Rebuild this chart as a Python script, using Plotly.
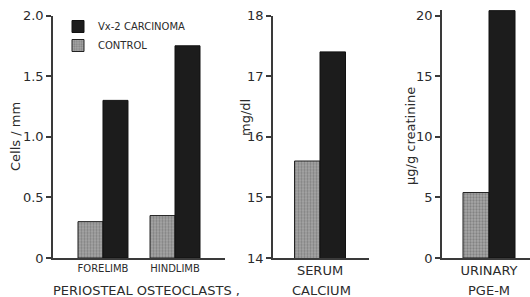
import plotly.graph_objects as go

# ---- data ----
osteo_categories = ["FORELIMB", "HINDLIMB"]
osteo_control = [0.30, 0.35]
osteo_carcinoma = [1.30, 1.75]

calcium_category = ["SERUM"]
calcium_control = [15.6]
calcium_carcinoma = [17.4]

pge_category = ["URINARY"]
pge_control = [5.4]
pge_carcinoma = [20.4]

series_names = ["CONTROL", "Vx-2 CARCINOMA"]
y_titles = ["Cells / mm", "mg/dl", "\u00b5g/g creatinine"]
osteo_ticks = [0, 0.5, 1.0, 1.5, 2.0]
osteo_ticktext = ["0", "0.5", "1.0", "1.5", "2.0"]
calcium_ticks = [14, 15, 16, 17, 18]
pge_ticks = [0, 5, 10, 15, 20]

W, H = 530, 297
FONT = "DejaVu Sans"
TXT = "#2b2b2b"
LINE = "#3a3a3a"
CTRL = "#8c8c8c"
CARC = "#1c1c1c"

def px(x):
    return x / W

def py(y):
    return 1 - y / H

fig = go.Figure()

panels = [
    ("x", "y", osteo_categories, osteo_control, osteo_carcinoma, True),
    ("x2", "y2", calcium_category, calcium_control, calcium_carcinoma, False),
    ("x3", "y3", pge_category, pge_control, pge_carcinoma, False),
]
for xa, ya, cats, ctrl, carc, show in panels:
    fig.add_trace(go.Bar(
        x=cats, y=ctrl, name=series_names[0], xaxis=xa, yaxis=ya,
        marker=dict(color=CTRL, line=dict(color="#222", width=1),
                    pattern=dict(shape=".", fgcolor="#5a5a5a", bgcolor="#a8a8a8",
                                 size=3, solidity=0.45)),
        showlegend=show, legendgroup="c",
    ))
    fig.add_trace(go.Bar(
        x=cats, y=carc, name=series_names[1], xaxis=xa, yaxis=ya,
        marker=dict(color=CARC, line=dict(color="#111", width=1)),
        showlegend=show, legendgroup="v",
    ))

Y0 = 258.0      # pixel row of the value axis baseline
YTOP = 15.5     # pixel row of the top tick
ydom = [py(Y0), py(YTOP)]
# panel 3: the tallest bar rises above the top tick, so extend range and domain
pge_top = 20.45
pge_px_per_unit = (Y0 - YTOP) / 20.0
ydom3 = [py(Y0), py(Y0 - pge_top * pge_px_per_unit)]

axis_common = dict(showline=True, linecolor=LINE, linewidth=1.5, showgrid=False,
                   zeroline=False, ticks="outside", ticklen=5, tickcolor=LINE,
                   tickwidth=1.5, tickfont=dict(family=FONT, size=13, color=TXT),
                   automargin=False)
xcommon = dict(showline=True, linecolor=LINE, linewidth=1.5, showgrid=False,
               zeroline=False, ticks="", type="category", automargin=False)

fig.update_layout(
    width=W, height=H, autosize=False,
    margin=dict(l=0, r=0, t=0, b=0, autoexpand=False),
    paper_bgcolor="white", plot_bgcolor="white",
    barmode="group", bargap=0.306, bargroupgap=0,
    font=dict(family=FONT, color=TXT),
    showlegend=True,
    legend=dict(x=px(58), y=py(12), xanchor="left", yanchor="top",
                traceorder="reversed", bgcolor="rgba(0,0,0,0)",
                font=dict(family=FONT, size=10, color=TXT),
                itemwidth=30, tracegroupgap=2),
    xaxis=dict(xcommon, domain=[px(53), px(225)], range=[-0.694, 1.694],
               anchor="y", tickfont=dict(family=FONT, size=10, color=TXT)),
    yaxis=dict(axis_common, domain=ydom, range=[0, 2.0], anchor="x",
               tickvals=osteo_ticks, ticktext=osteo_ticktext),
    xaxis2=dict(xcommon, domain=[px(273), px(369)], range=[-0.64, 0.667],
                anchor="y2", tickfont=dict(family=FONT, size=13, color=TXT)),
    yaxis2=dict(axis_common, domain=ydom, range=[14, 18], anchor="x2",
                tickvals=calcium_ticks),
    xaxis3=dict(xcommon, domain=[px(442), 1.0], range=[-0.627, 0.547],
                anchor="y3", tickfont=dict(family=FONT, size=13, color=TXT)),
    yaxis3=dict(axis_common, domain=ydom3, range=[0, pge_top], anchor="x3",
                tickvals=pge_ticks),
)

ann = [
    dict(text=y_titles[0], x=px(15), y=py(137), textangle=-90, size=13),
    dict(text=y_titles[1], x=px(246), y=py(118), textangle=-90, size=13),
    dict(text=y_titles[2], x=px(410), y=py(136), textangle=-90, size=13),
    dict(text="PERIOSTEAL OSTEOCLASTS ,", x=px(146), y=py(290), textangle=0, size=13),
    dict(text="CALCIUM", x=px(321), y=py(290), textangle=0, size=13),
    dict(text="PGE-M", x=px(489), y=py(290), textangle=0, size=13),
]
for a in ann:
    fig.add_annotation(text=a["text"], x=a["x"], y=a["y"], xref="paper", yref="paper",
                       xanchor="center", yanchor="middle", textangle=a["textangle"],
                       showarrow=False, font=dict(family=FONT, size=a["size"], color=TXT))

post = ("document.body.style.margin='0';document.body.style.padding='0';"
        "document.body.style.overflow='hidden';"
        "document.documentElement.style.overflow='hidden';")
fig.write_html("out.html", post_script=post, config={"displayModeBar": False})
